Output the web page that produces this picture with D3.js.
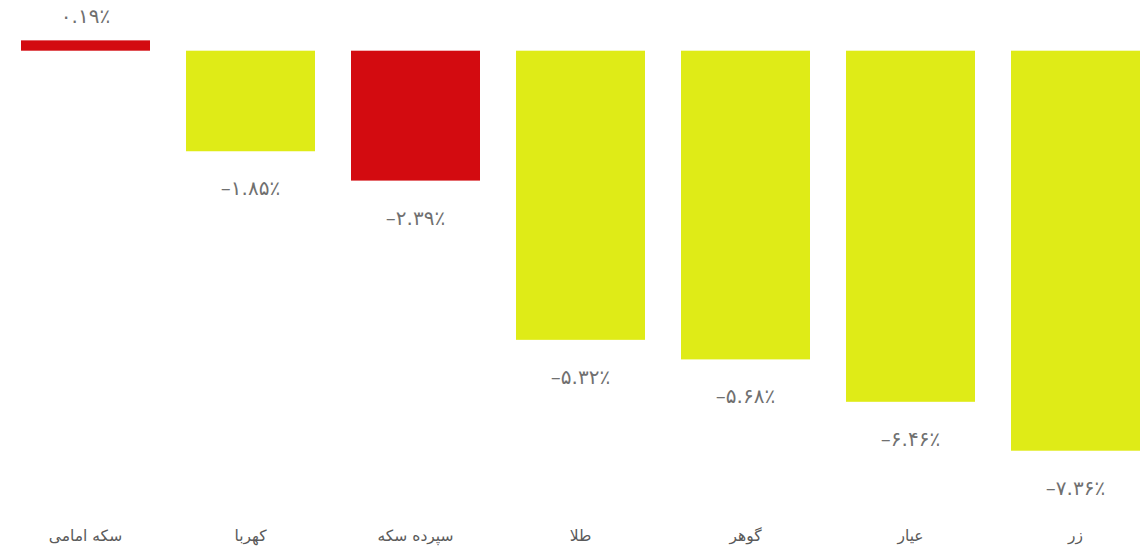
<!DOCTYPE html>
<html><head><meta charset="utf-8">
<script src="https://cdn.jsdelivr.net/npm/d3@7"></script>
<style>body{margin:0;background:#fff}svg{display:block}</style>
</head><body>
<script>
const categories = ["سکه امامی","کهربا","سپرده سکه","طلا","گوهر","عیار","زر"];
const values = [0.19,-1.85,-2.39,-5.32,-5.68,-6.46,-7.36];
const valueLabels = ["۰.۱۹٪","–۱.۸۵٪","–۲.۳۹٪","–۵.۳۲٪","–۵.۶۸٪","–۶.۴۶٪","–۷.۳۶٪"];
const highlighted = ["سکه امامی","سپرده سکه"];

const W=1143,H=548;
const svg=d3.select("body").append("svg").attr("width",W).attr("height",H);
const x=d3.scaleBand().domain(categories).range([3,1158]).paddingInner(36/165).paddingOuter(18/165);
const y=d3.scaleLinear().domain([0,-8]).range([50.7,50.7+8*54.35]);
const color=c=>highlighted.includes(c)?"#d30b10":"#dfeb17";
const data=categories.map((c,i)=>({c,v:values[i],l:valueLabels[i]}));
svg.selectAll("rect").data(data).join("rect")
 .attr("x",d=>x(d.c)).attr("width",x.bandwidth())
 .attr("y",d=>y(Math.max(0,d.v))).attr("height",d=>Math.abs(y(d.v)-y(0)))
 .attr("fill",d=>color(d.c));
svg.selectAll("text.val").data(data).join("text").attr("class","val")
 .attr("x",d=>x(d.c)+x.bandwidth()/2)
 .attr("y",d=>d.v>=0?y(d.v)-17:y(d.v)+44)
 .attr("text-anchor","middle").attr("direction","ltr")
 .style("unicode-bidi","embed")
 .attr("font-family","DejaVu Sans, sans-serif").attr("font-size",20).attr("fill","#707070")
 .text(d=>d.l);
const ax=svg.append("g").attr("transform","translate(0,541)")
 .call(d3.axisBottom(x).tickSize(0).tickPadding(0));
ax.select(".domain").remove();
ax.selectAll("text").attr("font-family","DejaVu Sans, sans-serif").attr("font-size",15.5).attr("fill","#5a5a5a").attr("dy","0");
</script>
</body></html>
